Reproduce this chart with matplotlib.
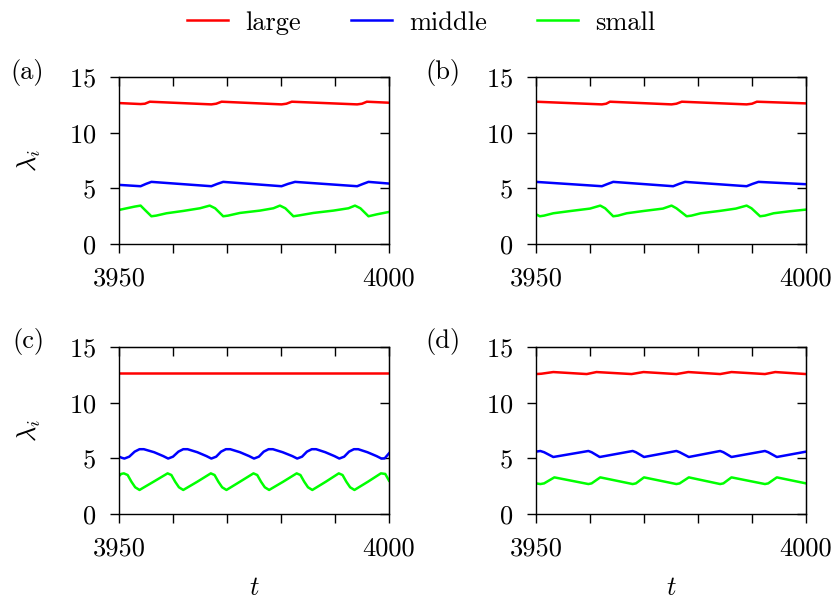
import matplotlib
matplotlib.use("Agg")
import matplotlib.pyplot as plt
from matplotlib import rcParams

rcParams['font.family'] = 'serif'
rcParams['font.serif'] = ['cmr10']
rcParams['mathtext.fontset'] = 'cm'
rcParams['axes.formatter.use_mathtext'] = True
rcParams['font.size'] = 19

# 横轴刻度
x_ticks = [3950, 3960, 3970, 3980, 3990, 4000]
x_ticklabels = ['3950', '', '', '', '', '4000']
y_ticks = [0, 5, 10, 15]
series_names = ['large', 'middle', 'small']
panel_labels = ['(a)', '(b)', '(c)', '(d)']

# (a)
t_a_large = [3950, 3954, 3954.8, 3955.7, 3967.1, 3968.0, 3969, 3980.1, 3981, 3982, 3994.1, 3995, 3995.9, 4000]
v_a_large = [12.66, 12.57, 12.6, 12.78, 12.54, 12.6, 12.78, 12.54, 12.6, 12.78, 12.54, 12.6, 12.78, 12.69]
t_a_middle = [3950, 3954, 3955, 3956, 3967.1, 3968.2, 3969.3, 3980.1, 3981.3, 3982.6, 3994.1, 3995.2, 3996.2, 4000]
v_a_middle = [5.31, 5.19, 5.4, 5.58, 5.19, 5.4, 5.58, 5.19, 5.4, 5.58, 5.19, 5.4, 5.58, 5.43]
t_a_small = [3950, 3952.9, 3954.0, 3954.8, 3956.0, 3956.9, 3958.8, 3961.9, 3965.0, 3966.8, 3967.8, 3969.3,
             3970.2, 3972.4, 3976.1, 3978.6, 3979.8, 3980.8, 3982.3, 3983.5, 3986.0, 3989.7, 3992.5, 3993.7,
             3994.7, 3996.2, 3997.8, 4000]
v_a_small = [3.06, 3.36, 3.45, 3.06, 2.49, 2.55, 2.76, 2.97, 3.21, 3.45, 3.21, 2.49,
             2.55, 2.79, 3.0, 3.21, 3.45, 3.21, 2.49, 2.58, 2.79, 3.0, 3.21, 3.45,
             3.21, 2.49, 2.67, 2.88]

# (b)
t_b_large = [3950, 3962.2, 3963, 3963.7, 3975.1, 3976, 3977, 3989, 3990, 3990.9, 4000]
v_b_large = [12.78, 12.54, 12.6, 12.78, 12.54, 12.6, 12.78, 12.54, 12.6, 12.78, 12.63]
t_b_middle = [3950, 3962.2, 3963.3, 3964.3, 3975.4, 3976.5, 3977.6, 3989, 3990.1, 3991.2, 4000]
v_b_middle = [5.58, 5.19, 5.4, 5.58, 5.19, 5.4, 5.58, 5.19, 5.4, 5.58, 5.37]
t_b_small = [3950, 3950.7, 3951.5, 3953.2, 3956.5, 3960, 3961.9, 3962.8, 3964.3, 3965.2, 3966.8, 3970,
             3973.5, 3975.1, 3976, 3977.9, 3978.8, 3980.5, 3984, 3987, 3989, 3989.9, 3991.5, 3992.4,
             3994, 3997, 4000]
v_b_small = [2.67, 2.49, 2.55, 2.76, 2.97, 3.18, 3.45, 3.21, 2.49, 2.55, 2.76, 2.97,
             3.18, 3.45, 3.21, 2.49, 2.55, 2.76, 2.97, 3.18, 3.45, 3.21, 2.49, 2.55,
             2.76, 2.94, 3.09]

# (c)
t_c_large = [3950, 4000]
v_c_large = [12.69, 12.69]
t_c_middle = [3950.0, 3950.5, 3951.0, 3951.9, 3952.9, 3953.8, 3954.6, 3956.5, 3958.2,
              3959.1, 3960.0, 3961.0, 3961.9, 3962.7, 3964.5, 3966.2,
              3967.1, 3968.0, 3968.9, 3969.8, 3970.6, 3972.4, 3974.1,
              3975.0, 3975.9, 3976.8, 3977.7, 3978.5, 3980.3, 3982.1,
              3983.0, 3983.9, 3984.8, 3985.7, 3986.5, 3988.2, 3989.9,
              3990.8, 3991.7, 3992.6, 3993.5, 3994.3, 3996.0, 3997.7,
              3998.6, 3999.2, 4000.0]
v_c_middle = [5.16, 5.05, 4.98, 5.15, 5.6, 5.82, 5.82, 5.55, 5.2,
              4.98, 5.15, 5.6, 5.82, 5.82, 5.55, 5.2,
              4.98, 5.15, 5.6, 5.82, 5.82, 5.55, 5.2,
              4.98, 5.15, 5.6, 5.82, 5.82, 5.55, 5.2,
              4.98, 5.15, 5.6, 5.82, 5.82, 5.55, 5.2,
              4.98, 5.15, 5.6, 5.82, 5.82, 5.55, 5.2,
              4.98, 5.0, 5.45]
t_c_small = [3950.0, 3950.4, 3950.9, 3951.6, 3952.3, 3953.0, 3953.8, 3956.4,
             3959.0, 3959.7, 3960.4, 3961.1, 3961.9, 3964.5,
             3967.0, 3967.7, 3968.4, 3969.1, 3969.9, 3972.4,
             3974.9, 3975.6, 3976.3, 3977.0, 3977.8, 3980.4,
             3982.9, 3983.6, 3984.3, 3985.0, 3985.8, 3988.3,
             3990.7, 3991.4, 3992.1, 3992.8, 3993.6, 3996.1,
             3998.5, 3999.3, 4000.0]
v_c_small = [3.4, 3.6, 3.65, 3.5, 2.9, 2.4, 2.16, 2.9,
             3.65, 3.5, 2.9, 2.4, 2.16, 2.9,
             3.65, 3.5, 2.9, 2.4, 2.16, 2.9,
             3.65, 3.5, 2.9, 2.4, 2.16, 2.9,
             3.65, 3.5, 2.9, 2.4, 2.16, 2.9,
             3.65, 3.5, 2.9, 2.4, 2.16, 2.9,
             3.65, 3.6, 3.0]

# (d)
t_d_large = [3950.0, 3951.0, 3953.2, 3959.4, 3961.2, 3967.7, 3969.9, 3976.0, 3978.2, 3984.1, 3986.2,
             3992.4, 3994.3, 4000.0]
v_d_large = [12.57, 12.6, 12.75, 12.57, 12.75, 12.57, 12.75, 12.57, 12.75, 12.57, 12.75,
             12.57, 12.75, 12.57]
t_d_middle = [3950.0, 3950.8, 3951.5, 3953.2, 3959.7, 3960.3, 3961.8, 3967.9, 3968.5, 3970.0, 3976.0,
              3976.6, 3978.3, 3984.1, 3984.7, 3986.2, 3992.4, 3993.0, 3994.6, 4000.0]
v_d_middle = [5.6, 5.66, 5.55, 5.12, 5.66, 5.55, 5.12, 5.66, 5.55, 5.12, 5.66,
              5.55, 5.12, 5.66, 5.55, 5.12, 5.66, 5.55, 5.12, 5.6]
t_d_small = [3950.0, 3950.8, 3951.5, 3953.4, 3959.7, 3960.3, 3961.9, 3967.9, 3968.5, 3970.0, 3976.0,
             3976.6, 3978.3, 3984.1, 3984.7, 3986.2, 3992.4, 3993.0, 3994.6, 4000.0]
v_d_small = [2.75, 2.69, 2.75, 3.29, 2.69, 2.75, 3.29, 2.69, 2.75, 3.29, 2.69,
             2.75, 3.29, 2.69, 2.75, 3.29, 2.69, 2.75, 3.29, 2.75]

panels = [
    [(t_a_large, v_a_large), (t_a_middle, v_a_middle), (t_a_small, v_a_small)],
    [(t_b_large, v_b_large), (t_b_middle, v_b_middle), (t_b_small, v_b_small)],
    [(t_c_large, v_c_large), (t_c_middle, v_c_middle), (t_c_small, v_c_small)],
    [(t_d_large, v_d_large), (t_d_middle, v_d_middle), (t_d_small, v_d_small)],
]
colors = ['#ff0000', '#0000ff', '#00ff00']

W, H = 837, 601
# 每个子图的像素框 (left, top, right, bottom)
boxes = [(119, 77, 389, 244), (536, 77, 806, 244), (119, 347, 389, 514), (536, 347, 806, 514)]


def style_axes(ax):
    ax.set_xlim(3950, 4000)
    ax.set_ylim(0, 15)
    ax.set_xticks(x_ticks)
    ax.set_xticklabels(x_ticklabels)
    ax.set_yticks(y_ticks)
    ax.tick_params(direction='out', length=6.5, width=1.0, pad=10)
    for s in ax.spines.values():
        s.set_linewidth(1.0)
    top = ax.secondary_xaxis('top')
    top.set_xticks(x_ticks)
    top.tick_params(direction='in', length=6.5, width=1.0, labeltop=False)
    right = ax.secondary_yaxis('right')
    right.set_yticks(y_ticks)
    right.tick_params(direction='in', length=6.5, width=1.0, labelright=False)


fig = plt.figure(figsize=(W / 100, H / 100), dpi=100)
axes = []
for i, (l, t, r, b) in enumerate(boxes):
    ax = fig.add_axes([l / W, 1 - b / H, (r - l) / W, (b - t) / H])
    for (tt, vv), c, name in zip(panels[i], colors, series_names):
        ax.plot(tt, vv, color=c, lw=1.8, label=name)
    style_axes(ax)
    axes.append(ax)

# 面板标签和轴标签
fig.text(10 / W, 1 - 78.5 / H, panel_labels[0], va='baseline', ha='left')
fig.text(425 / W, 1 - 78.5 / H, panel_labels[1], va='baseline', ha='left')
fig.text(12 / W, 1 - 348 / H, panel_labels[2], va='baseline', ha='left')
fig.text(425 / W, 1 - 348 / H, panel_labels[3], va='baseline', ha='left')
fig.text(29 / W, 1 - 160.5 / H, r'$\lambda_i$', rotation=90, va='center', ha='center')
fig.text(29 / W, 1 - 430.5 / H, r'$\lambda_i$', rotation=90, va='center', ha='center')
fig.text(254 / W, 1 - 595 / H, r'$t$', va='baseline', ha='center')
fig.text(671 / W, 1 - 595 / H, r'$t$', va='baseline', ha='center')

handles, labels = axes[0].get_legend_handles_labels()
fig.legend(handles, labels, loc='center', bbox_to_anchor=(0.503, 0.962), ncol=3, frameon=False,
           handlelength=1.55, handletextpad=0.65, columnspacing=1.9)

fig.savefig('out.png', dpi=100)
